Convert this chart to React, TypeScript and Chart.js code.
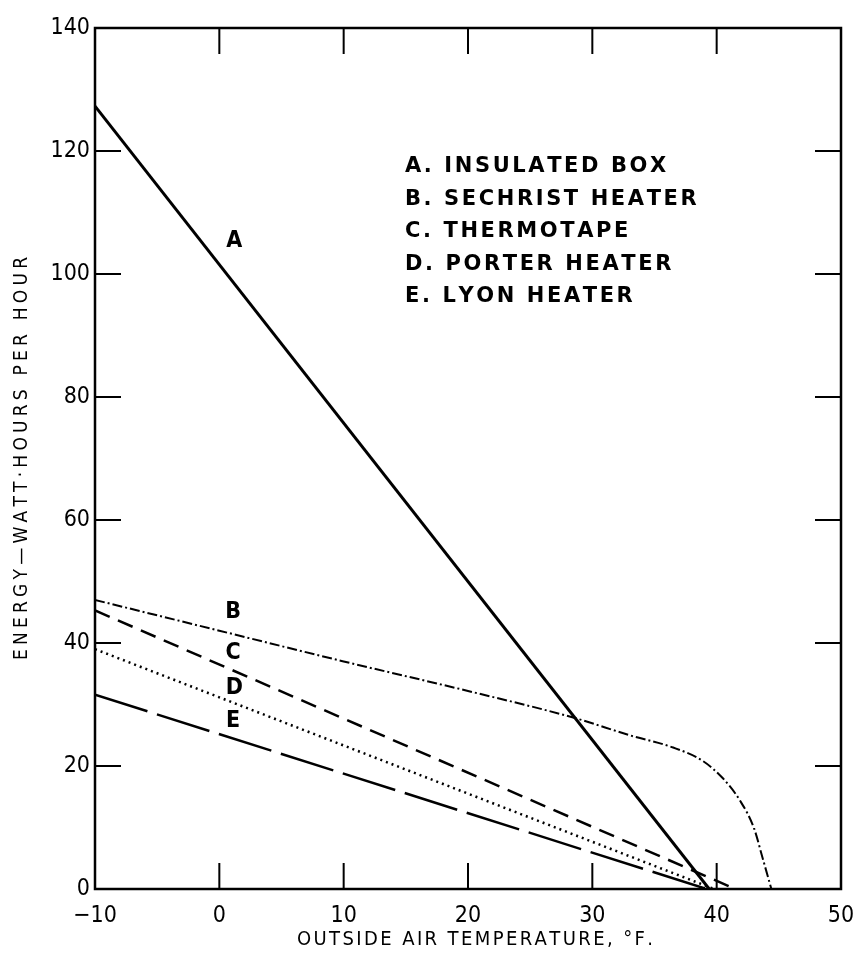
import React, { useEffect, useRef } from "react";
import { Chart, registerables } from "chart.js";

Chart.register(...registerables);

// ---- data ----
const xTickValues = [-10, 0, 10, 20, 30, 40, 50];
const yTickValues = [0, 20, 40, 60, 80, 100, 120, 140];

const tempA = [-10, 39.4];
const energyA = [127.3, 0];

const tempB = [-10, 0, 10, 20, 28.6, 33, 36.5, 38.9, 40.5, 41.9, 43, 43.7, 44.4];
const energyB = [47, 42, 37, 32.2, 27.8, 25, 23, 20.8, 18, 14.3, 9.9, 5, 0];

const tempC = [-10, 41.5];
const energyC = [45.3, 0];

const tempD = [-10, 39.8];
const energyD = [39, 0];

const tempE = [-10, 39.2];
const energyE = [31.6, 0];

const curveLetters = ["A", "B", "C", "D", "E"];
const letterTemps = [1.2, 1.1, 1.1, 1.2, 1.1];
const letterEnergies = [105.4, 45.1, 38.3, 32.6, 27.3];

const legendLines = [
  "A. INSULATED BOX",
  "B. SECHRIST HEATER",
  "C. THERMOTAPE",
  "D. PORTER HEATER",
  "E. LYON HEATER",
];

const xTitle = "OUTSIDE AIR TEMPERATURE, °F.";
const yTitle = "ENERGY—WATT·HOURS PER HOUR";

const FONT = '"DejaVu Sans Condensed", "Liberation Sans Narrow", "DejaVu Sans", sans-serif';
const BOLD_FONT = '"DejaVu Sans", "Liberation Sans", sans-serif';

function pts(xs: number[], ys: number[]) {
  return xs.map((x, i) => ({ x, y: ys[i] }));
}

function drawSpaced(ctx: CanvasRenderingContext2D, text: string, x: number, y: number, spacing: number, align: "left" | "center") {
  let total = 0;
  const widths = Array.from(text).map((ch) => ctx.measureText(ch).width);
  widths.forEach((w) => (total += w + spacing));
  total -= spacing;
  let cx = align === "center" ? x - total / 2 : x;
  Array.from(text).forEach((ch, i) => {
    ctx.fillText(ch, cx, y);
    cx += widths[i] + spacing;
  });
}

const decorPlugin = {
  id: "decor",
  beforeDraw(chart: any) {
    const { ctx } = chart;
    ctx.save();
    ctx.fillStyle = "#ffffff";
    ctx.fillRect(0, 0, chart.width, chart.height);
    ctx.restore();
  },
  beforeDatasetsDraw(chart: any) {
    const { ctx, chartArea: a, scales } = chart;
    const x = scales.x;
    const y = scales.y;
    ctx.save();
    ctx.strokeStyle = "#000";
    ctx.lineWidth = 2.5;
    ctx.strokeRect(a.left, a.top, a.right - a.left, a.bottom - a.top);
    const len = 26;
    ctx.lineWidth = 2;
    ctx.beginPath();
    xTickValues.forEach((v) => {
      if (v === xTickValues[0] || v === xTickValues[xTickValues.length - 1]) return;
      const px = x.getPixelForValue(v);
      ctx.moveTo(px, a.bottom);
      ctx.lineTo(px, a.bottom - len);
      ctx.moveTo(px, a.top);
      ctx.lineTo(px, a.top + len);
    });
    yTickValues.forEach((v) => {
      if (v === yTickValues[0] || v === yTickValues[yTickValues.length - 1]) return;
      const py = y.getPixelForValue(v);
      ctx.moveTo(a.left, py);
      ctx.lineTo(a.left + len, py);
      ctx.moveTo(a.right, py);
      ctx.lineTo(a.right - len, py);
    });
    ctx.stroke();
    ctx.restore();
  },
  afterDraw(chart: any) {
    const { ctx, chartArea: a, scales } = chart;
    const x = scales.x;
    const y = scales.y;
    ctx.save();
    ctx.fillStyle = "#000";
    // curve letters
    ctx.font = `bold 23px ${FONT}`;
    ctx.textAlign = "center";
    ctx.textBaseline = "middle";
    curveLetters.forEach((l, i) => {
      ctx.fillText(l, x.getPixelForValue(letterTemps[i]), y.getPixelForValue(letterEnergies[i]));
    });
    // legend block
    ctx.font = `bold 21px ${BOLD_FONT}`;
    ctx.textAlign = "left";
    legendLines.forEach((t, i) => {
      drawSpaced(ctx, t, 405, 167 + i * 32.5, 2.6, "left");
    });
    // x title
    ctx.font = `20px ${FONT}`;
    ctx.textBaseline = "middle";
    drawSpaced(ctx, xTitle, 475, 940, 2.4, "center");
    // y title
    ctx.translate(22, (a.top + a.bottom) / 2);
    ctx.rotate(-Math.PI / 2);
    ctx.font = `19px ${FONT}`;
    drawSpaced(ctx, yTitle, 0, 0, 4.2, "center");
    ctx.restore();
  },
};

export default function App() {
  const ref = useRef<HTMLCanvasElement | null>(null);

  useEffect(() => {
    if (!ref.current) return;
    const common = { fill: false, pointRadius: 0, borderColor: "#000", showLine: true };
    const chart = new Chart(ref.current, {
      type: "scatter",
      data: {
        datasets: [
          { ...common, label: "E. LYON HEATER", data: pts(tempE, energyE), borderWidth: 2.5, borderDash: [55, 10] },
          { ...common, label: "D. PORTER HEATER", data: pts(tempD, energyD), borderWidth: 2.5, borderDash: [2, 4] },
          { ...common, label: "C. THERMOTAPE", data: pts(tempC, energyC), borderWidth: 2.5, borderDash: [16, 9] },
          {
            ...common,
            label: "B. SECHRIST HEATER",
            data: pts(tempB, energyB),
            borderWidth: 2,
            borderDash: [10, 3, 2, 3],
            cubicInterpolationMode: "monotone",
          },
          { ...common, label: "A. INSULATED BOX", data: pts(tempA, energyA), borderWidth: 3 },
        ] as any,
      },
      options: {
        animation: false,
        responsive: false,
        layout: { padding: { left: 0, right: 16, top: 28, bottom: 0 } },
        plugins: { legend: { display: false }, tooltip: { enabled: false } },
        scales: {
          x: {
            type: "linear",
            min: -10,
            max: 50,
            afterBuildTicks: (s: any) => {
              s.ticks = xTickValues.map((v) => ({ value: v }));
            },
            afterFit: (s: any) => {
              s.height = 66;
              s.paddingLeft = 0;
              s.paddingRight = 0;
            },
            grid: { display: false, drawTicks: false },
            border: { display: false },
            ticks: {
              color: "#000",
              padding: 13,
              maxRotation: 0,
              font: { family: FONT, size: 23 },
              callback: (v: any) => (Number(v) < 0 ? "−" + Math.abs(Number(v)) : String(v)),
            },
          },
          y: {
            type: "linear",
            min: 0,
            max: 140,
            afterBuildTicks: (s: any) => {
              s.ticks = yTickValues.map((v) => ({ value: v }));
            },
            afterFit: (s: any) => {
              s.width = 95;
              s.paddingTop = 0;
              s.paddingBottom = 0;
            },
            grid: { display: false, drawTicks: false },
            border: { display: false },
            ticks: {
              color: "#000",
              padding: 5,
              font: { family: FONT, size: 23 },
            },
          },
        },
      },
      plugins: [decorPlugin],
    });
    return () => chart.destroy();
  }, []);

  return (
    <div style={{ position: "fixed", left: 0, top: 0, width: 857, height: 955, background: "#fff" }}>
      <canvas ref={ref} width={857} height={955} style={{ width: 857, height: 955, display: "block" }} />
    </div>
  );
}
